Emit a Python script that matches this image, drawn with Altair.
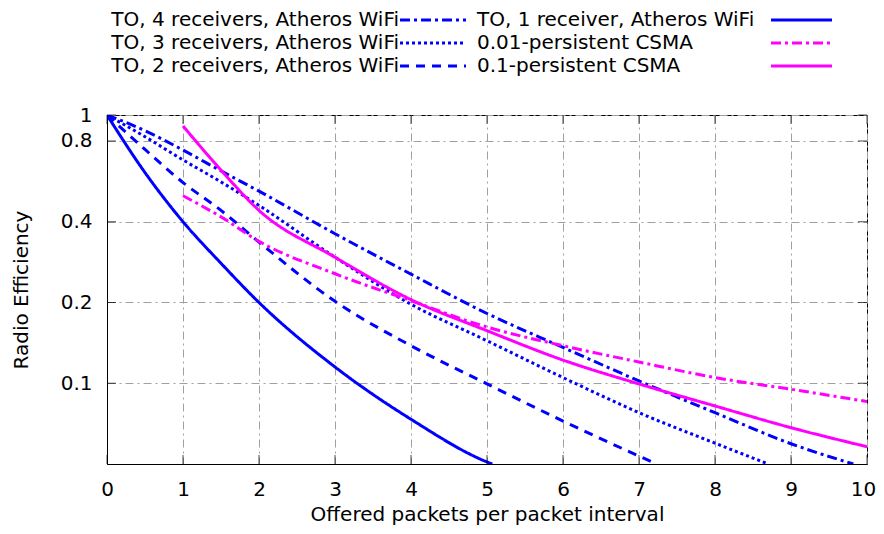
import altair as alt
import pandas as pd

# ---- data ----
series_names = [
    "TO, 4 receivers, Atheros WiFi",
    "TO, 3 receivers, Atheros WiFi",
    "TO, 2 receivers, Atheros WiFi",
    "TO, 1 receiver, Atheros WiFi",
    "0.01-persistent CSMA",
    "0.1-persistent CSMA",
]

x_to4 = [0, 0.5, 1, 1.5, 2, 3, 4, 5, 6, 7, 8, 9, 9.82]
y_to4 = [1, 0.874, 0.74, 0.619, 0.52, 0.361, 0.255, 0.182, 0.136, 0.102, 0.0777, 0.0595, 0.05]

x_to3 = [0, 0.5, 1, 1.5, 2, 3, 4, 5, 6, 7, 8, 8.7]
y_to3 = [1, 0.83, 0.68, 0.563, 0.46, 0.295, 0.197, 0.144, 0.105, 0.0777, 0.0598, 0.05]

x_to2 = [0, 0.5, 1, 1.5, 2, 3, 4, 5, 6, 7, 7.23]
y_to2 = [1, 0.744, 0.56, 0.441, 0.336, 0.202, 0.138, 0.0995, 0.0723, 0.0535, 0.05]

x_to1 = [0, 0.5, 1, 1.5, 2, 3, 4, 5, 5.07]
y_to1 = [1, 0.61, 0.40, 0.28, 0.20, 0.115, 0.0734, 0.0509, 0.05]

x_c001 = [1, 1.5, 2, 3, 4, 5, 6, 7, 8, 9, 10]
y_c001 = [0.50, 0.417, 0.338, 0.256, 0.203, 0.162, 0.138, 0.12, 0.105, 0.095, 0.0855]

x_c01 = [1, 1.5, 2, 3, 4, 5, 6, 7, 8, 9, 10]
y_c01 = [0.91, 0.623, 0.441, 0.295, 0.205, 0.157, 0.122, 0.0994, 0.0823, 0.0683, 0.058]

x_ticks = [0, 1, 2, 3, 4, 5, 6, 7, 8, 9, 10]
y_ticks = [0.1, 0.2, 0.4, 0.8, 1]

# ---- styles ----
colors = ["#0000ff", "#0000ff", "#0000ff", "#0000ff", "#ff00ff", "#ff00ff"]
dashes = [[10, 4, 3, 4], [3, 3], [9, 7], [1, 0], [10, 4, 3, 4], [1, 0]]

xs = [x_to4, x_to3, x_to2, x_to1, x_c001, x_c01]
ys = [y_to4, y_to3, y_to2, y_to1, y_c001, y_c01]
rows = []
for name, xv, yv in zip(series_names, xs, ys):
    for a, b in zip(xv, yv):
        rows.append({"series": name, "x": a, "y": b})
df = pd.DataFrame(rows)

W, H = 760, 349
FONT = "DejaVu Sans"
FS = 20

xscale = alt.Scale(domain=[0, 10], nice=False, zero=False)
yscale = alt.Scale(type="log", domain=[0.05, 1], nice=False)

lines = alt.Chart(df).mark_line(strokeWidth=3, interpolate="monotone", clip=True).encode(
    x=alt.X("x:Q", scale=xscale,
            axis=alt.Axis(values=x_ticks, title="Offered packets per packet interval",
                          format="d", grid=True, ticks=False, labelPadding=15,
                          labelFlush=False,
                          labelOffset=alt.condition("datum.value == 10", alt.value(-4), alt.value(0)),
                          titleBaseline="alphabetic", titleY=56)),
    y=alt.Y("y:Q", scale=yscale,
            axis=alt.Axis(values=y_ticks, title="Radio Efficiency", format="~g",
                          grid=True, ticks=False, labelPadding=15, labelFlush=False,
                          titlePadding=29)),
    color=alt.Color("series:N", scale=alt.Scale(domain=series_names, range=colors), legend=None),
    strokeDash=alt.StrokeDash("series:N", scale=alt.Scale(domain=series_names, range=dashes), legend=None),
)

xt = pd.DataFrame({"x": x_ticks})
yt = pd.DataFrame({"y": y_ticks})
tick_kw = dict(color="black", thickness=1, size=9)
tb = alt.Chart(xt).mark_tick(orient="vertical", **tick_kw).encode(x=alt.X("x:Q", scale=xscale), y=alt.value(H - 4.5))
tt = alt.Chart(xt).mark_tick(orient="vertical", **tick_kw).encode(x=alt.X("x:Q", scale=xscale), y=alt.value(4.5))
tl = alt.Chart(yt).mark_tick(orient="horizontal", **tick_kw).encode(y=alt.Y("y:Q", scale=yscale), x=alt.value(4.5))
tr = alt.Chart(yt).mark_tick(orient="horizontal", **tick_kw).encode(y=alt.Y("y:Q", scale=yscale), x=alt.value(W - 4.5))

# ---- manual legend (label then line sample), two columns ----
legend_layers = []
row_y = [-95, -72, -49]
for i, name in enumerate(series_names):
    col, r = divmod(i, 3)
    ldf = pd.DataFrame({"label": [name]})
    if col == 0:
        txt = alt.Chart(ldf).mark_text(align="right", baseline="middle", font=FONT, fontSize=FS,
                                       color="black").encode(text="label:N", x=alt.value(292), y=alt.value(row_y[r]))
        lx1, lx2 = 293, 359
    else:
        txt = alt.Chart(ldf).mark_text(align="left", baseline="middle", font=FONT, fontSize=FS,
                                       color="black").encode(text="label:N", x=alt.value(370), y=alt.value(row_y[r]))
        lx1, lx2 = 664, 725
    rule = alt.Chart(ldf).mark_rule(color=colors[i], strokeDash=dashes[i], strokeWidth=3).encode(
        x=alt.value(lx1), x2=alt.value(lx2), y=alt.value(row_y[r]))
    legend_layers += [txt, rule]

chart = alt.layer(lines, tb, tt, tl, tr, *legend_layers).properties(
    width=W, height=H,
    autosize=alt.AutoSizeParams(type="none"),
    padding={"left": 99, "top": 107, "right": 9, "bottom": 62},
).configure_view(stroke="black", strokeWidth=1).configure_axis(
    labelFont=FONT, labelFontSize=FS, labelColor="black",
    titleFont=FONT, titleFontSize=FS, titleColor="black", titleFontWeight="normal",
    domainColor="black", gridColor="#a0a0a0", gridDash=[8, 4, 2, 4], gridWidth=1,
)

chart.save("out.html", embed_options={"renderer": "svg", "actions": False})
